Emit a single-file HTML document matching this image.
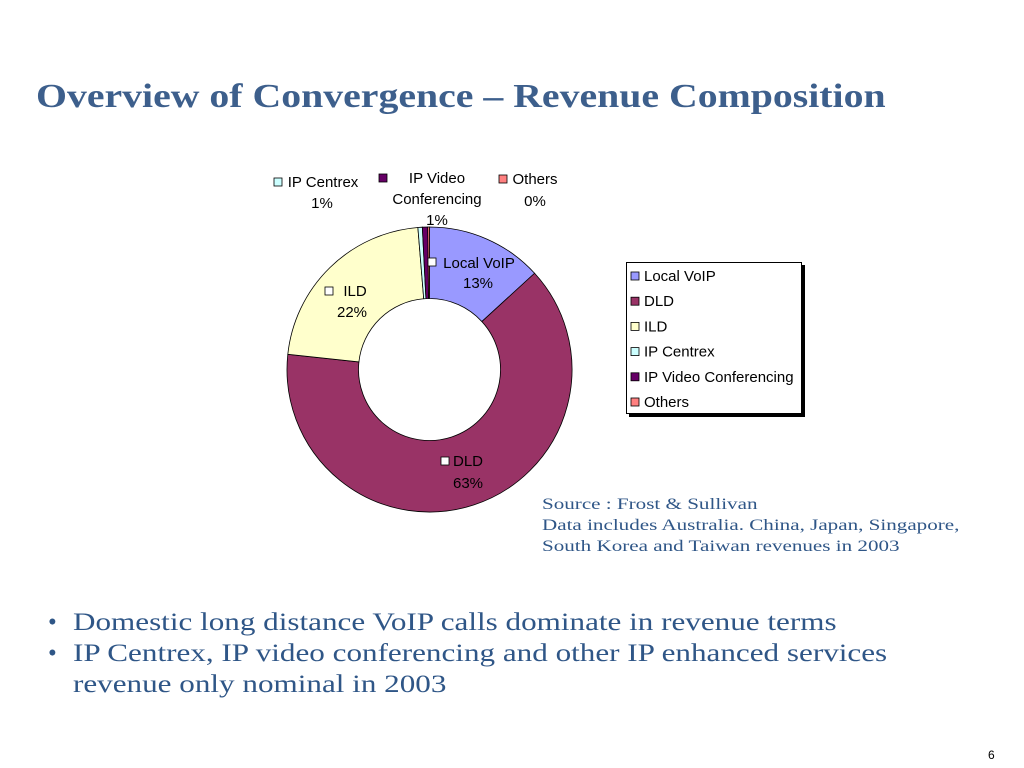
<!DOCTYPE html>
<html><head><meta charset="utf-8"><style>
body{margin:0;width:1024px;height:768px;background:#fff;position:relative;overflow:hidden;font-family:"Liberation Sans",sans-serif}
.t{position:absolute}
.sx{transform-origin:0 0;white-space:nowrap}
</style></head><body>
<div class="t sx" style="left:36px;top:78px;font:bold 34px 'Liberation Serif',serif;color:#3d5f8c;transform:scaleX(1.17)">Overview of Convergence – Revenue Composition</div>
<div class="t" style="left:626px;top:262px;width:174px;height:150px;border:1px solid #000;background:#fff;box-shadow:3px 3px 0 #000"></div>
<svg class="t" style="left:0;top:0" width="1024" height="768" id="chart"></svg>
<div class="t sx" style="left:542px;top:494px;font:15.5px 'Liberation Serif',serif;color:#2f5687;line-height:21px;transform:scaleX(1.36)">Source : Frost &amp; Sullivan<br>Data includes Australia. China, Japan, Singapore,<br>South Korea and Taiwan revenues in 2003</div>
<div class="t" style="left:48px;top:607px;font:25px 'Liberation Serif',serif;color:#2f5687;line-height:31px">
<div style="position:absolute;left:0;top:0">•</div>
<div style="position:absolute;left:0;top:31px">•</div>
<div class="sx" style="position:absolute;left:25px;top:0;transform:scaleX(1.245)">
<div>Domestic long distance VoIP calls dominate in revenue terms</div>
<div>IP Centrex, IP video conferencing and other IP enhanced services<br>revenue only nominal in 2003</div></div></div>
<div class="t" style="left:988px;top:748px;font-size:12px">6</div>
<script>
const categories=["Local VoIP","DLD","ILD","IP Centrex","IP Video Conferencing","Others"];
const values=[13.2,63.5,22.0,0.5,0.6,0.2];
const pctLabels=["13%","63%","22%","1%","1%","0%"];
const colors=["#9999ff","#993366","#ffffcc","#ccffff","#660066","#ff8080"];
const NS="http://www.w3.org/2000/svg";
const svg=document.getElementById('chart');
const cx=429.5,cy=369.5,R=142.5,r=71;
const total=values.reduce((a,b)=>a+b,0);
function pt(a,rad){return [cx+rad*Math.sin(a),cy-rad*Math.cos(a)];}
let acc=0;
values.forEach((v,i)=>{
 const a0=acc/total*2*Math.PI;acc+=v;const a1=acc/total*2*Math.PI;
 const lg=(a1-a0)>Math.PI?1:0;
 const p0=pt(a0,R),p1=pt(a1,R),q1=pt(a1,r),q0=pt(a0,r);
 const p=document.createElementNS(NS,'path');
 p.setAttribute('d',`M${p0}A${R},${R} 0 ${lg} 1 ${p1}L${q1}A${r},${r} 0 ${lg} 0 ${q0}Z`);
 p.setAttribute('fill',colors[i]);p.setAttribute('stroke','#000');p.setAttribute('stroke-width','0.8');
 
 
 svg.appendChild(p);
});
function txt(x,y,s,anchor,name){const t=document.createElementNS(NS,'text');t.setAttribute('x',x);t.setAttribute('y',y);t.setAttribute('font-size','15');t.setAttribute('font-family','Liberation Sans, sans-serif');t.setAttribute('text-anchor',anchor||'middle');t.textContent=s;


svg.appendChild(t);return t;}
function box(x,y,c,name){const b=document.createElementNS(NS,'rect');b.setAttribute('x',x);b.setAttribute('y',y);b.setAttribute('width',8);b.setAttribute('height',8);b.setAttribute('fill',c);b.setAttribute('stroke','#000');b.setAttribute('stroke-width','0.8');


svg.appendChild(b);}
const lab=[[479,268,"Local VoIP",478,288],[468,466,"DLD",468,488],[355,296,"ILD",352,317],[323,187,"IP Centrex",322,208],[437,183,"IP Video",437,225],[535,184,"Others",535,206]];
lab.forEach((L,i)=>{
 txt(L[0],L[1],categories[i]==="IP Video Conferencing"?"IP Video":categories[i],'middle','data-label-name');
 if(i===4)txt(437,204,"Conferencing",'middle','data-label-name');
 txt(L[3],L[4],pctLabels[i],'middle','data-label-value');
});
box(428,258,'#fff','label-marker');box(441,457,'#fff','label-marker');box(325,287,'#fff','label-marker');box(274,178,colors[3],'label-marker');box(379,174,colors[4],'label-marker');box(499,175,colors[5],'label-marker');
categories.forEach((c,i)=>{const y=272+i*25.2;box(631,y,colors[i],'legend-swatch');txt(644,y+9,c,'start','legend-entry');});
</script>
</body></html>
